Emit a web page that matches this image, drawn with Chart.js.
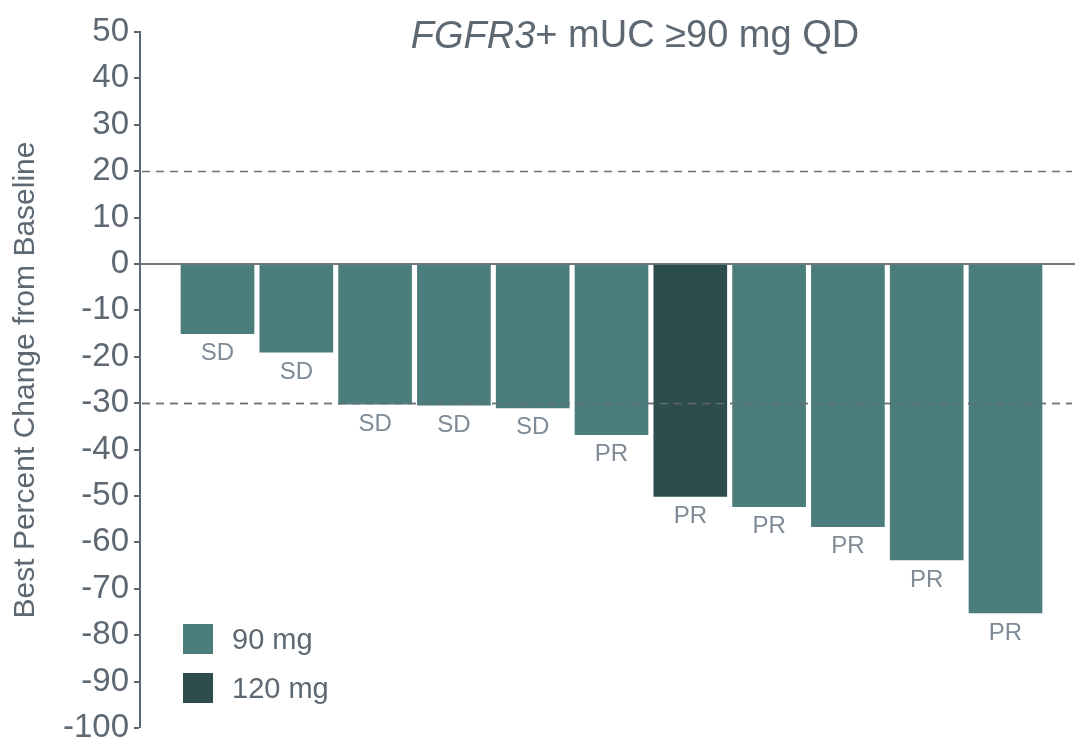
<!DOCTYPE html>
<html>
<head>
<meta charset="utf-8">
<script src="https://cdn.jsdelivr.net/npm/chart.js@4/dist/chart.umd.min.js"></script>
<style>
  html, body { margin: 0; padding: 0; background: #fff; }
  #wrap { width: 1078px; height: 742px; position: relative; }
</style>
</head>
<body>
<div id="wrap"><canvas id="waterfall"></canvas></div>
<script>
/* ── Data ── */
const patients   = ['Pt 1', 'Pt 2', 'Pt 3', 'Pt 4', 'Pt 5', 'Pt 6', 'Pt 7', 'Pt 8', 'Pt 9', 'Pt 10', 'Pt 11'];
const bestChange = [-15, -19, -30.2, -30.4, -31, -36.8, -50.1, -52.3, -56.6, -63.8, -75.2];
const doses      = ['90 mg', '90 mg', '90 mg', '90 mg', '90 mg', '90 mg', '120 mg', '90 mg', '90 mg', '90 mg', '90 mg'];
const responses  = ['SD', 'SD', 'SD', 'SD', 'SD', 'PR', 'PR', 'PR', 'PR', 'PR', 'PR'];
const doseGroups = ['90 mg', '120 mg'];
const refLines   = [20, -30];
const yMin = -100, yMax = 50, yStep = 10;

const FONT = "'Liberation Sans', Arial, sans-serif";
const doseColor = { '90 mg': '#4a7d7c', '120 mg': '#2d4d4c' };
const axisGrey = '#5d6873';

/* ── Plugin: title with italic gene name ── */
const titlePlugin = {
  id: 'mixedTitle',
  afterDraw(chart) {
    const ctx = chart.ctx;
    const parts = [
      { text: 'FGFR3', font: 'italic 38px ' + FONT },
      { text: '+ mUC \u226590 mg QD', font: '38px ' + FONT }
    ];
    ctx.save();
    let total = 0;
    parts.forEach(p => { ctx.font = p.font; p.w = ctx.measureText(p.text).width; total += p.w; });
    let x = 635 - total / 2;
    ctx.fillStyle = axisGrey;
    ctx.textBaseline = 'middle';
    ctx.textAlign = 'left';
    parts.forEach(p => { ctx.font = p.font; ctx.fillText(p.text, x, 37); x += p.w; });
    ctx.restore();
  }
};

/* ── Plugin: dashed reference lines ── */
function drawDashed(chart, v, color) {
  const { ctx, chartArea, scales: { y } } = chart;
  ctx.save();
  ctx.strokeStyle = color;
  ctx.lineWidth = 1.5;
  ctx.setLineDash([8, 6]);
  const py = Math.round(y.getPixelForValue(v)) + 0.5;
  ctx.beginPath();
  ctx.moveTo(chartArea.left + 2, py);
  ctx.lineTo(chartArea.right - 3, py);
  ctx.stroke();
  ctx.restore();
}

const refLinePlugin = {
  id: 'refLines',
  beforeDatasetsDraw(chart) {
    refLines.forEach(v => drawDashed(chart, v, '#6a6f75'));
  },
  afterDatasetsDraw(chart) {
    // the -30 line stays visible across the bars
    drawDashed(chart, refLines[1], 'rgba(106,111,117,0.8)');
  }
};

/* ── Plugin: response labels under bars ── */
const responsePlugin = {
  id: 'responses',
  afterDatasetsDraw(chart) {
    const ctx = chart.ctx;
    const meta = chart.getDatasetMeta(0);
    ctx.save();
    ctx.font = '24px ' + FONT;
    ctx.fillStyle = '#7e8b97';
    ctx.textAlign = 'center';
    ctx.textBaseline = 'middle';
    meta.data.forEach((bar, i) => {
      ctx.fillText(responses[i], bar.x, bar.y + 20);
    });
    ctx.restore();
  }
};

/* ── Plugin: legend in lower left ── */
const legendPlugin = {
  id: 'doseLegend',
  afterDraw(chart) {
    const { ctx, chartArea } = chart;
    ctx.save();
    ctx.font = '29px ' + FONT;
    ctx.textBaseline = 'middle';
    ctx.textAlign = 'left';
    doseGroups.forEach((g, i) => {
      const x = chartArea.left + 43;
      const top = 624 + i * 49;
      ctx.fillStyle = doseColor[g];
      ctx.fillRect(x, top, 30, 30);
      ctx.fillStyle = axisGrey;
      ctx.fillText(g, x + 49, top + 17);
    });
    ctx.restore();
  }
};

new Chart(document.getElementById('waterfall'), {
  type: 'bar',
  data: {
    datasets: [{
      label: 'Best Percent Change',
      data: bestChange.map((v, i) => ({ x: i, y: v })),
      backgroundColor: doses.map(d => doseColor[d]),
      borderWidth: 0,
      barThickness: 73
    }]
  },
  options: {
    responsive: true,
    maintainAspectRatio: false,
    animation: false,
    layout: { padding: { top: 32, bottom: 14, left: 0, right: 3 } },
    plugins: {
      legend: { display: false },
      tooltip: { enabled: false }
    },
    scales: {
      x: {
        type: 'linear',
        offset: false,
        min: -0.9835,
        max: patients.length - 1 + 0.882,
        display: false
      },
      y: {
        min: yMin,
        max: yMax,
        afterFit: s => { s.width = 140; s.paddingTop = 0; s.paddingBottom = 0; },
        ticks: {
          stepSize: yStep,
          color: axisGrey,
          font: { family: FONT, size: 33 },
          padding: 5
        },
        border: { display: true, color: axisGrey, width: 2 },
        grid: {
          drawOnChartArea: true,
          drawTicks: true,
          tickLength: 6,
          tickColor: axisGrey,
          tickWidth: 2,
          color: c => c.tick && c.tick.value === 0 ? '#72787e' : 'rgba(0,0,0,0)',
          lineWidth: c => c.tick && c.tick.value === 0 ? 2 : 0
        },
        title: {
          display: true,
          text: 'Best Percent Change from Baseline',
          color: axisGrey,
          font: { family: FONT, size: 30 },
          padding: { top: 8, bottom: 0 }
        }
      }
    }
  },
  plugins: [refLinePlugin, responsePlugin, legendPlugin, titlePlugin]
});
</script>
</body>
</html>
